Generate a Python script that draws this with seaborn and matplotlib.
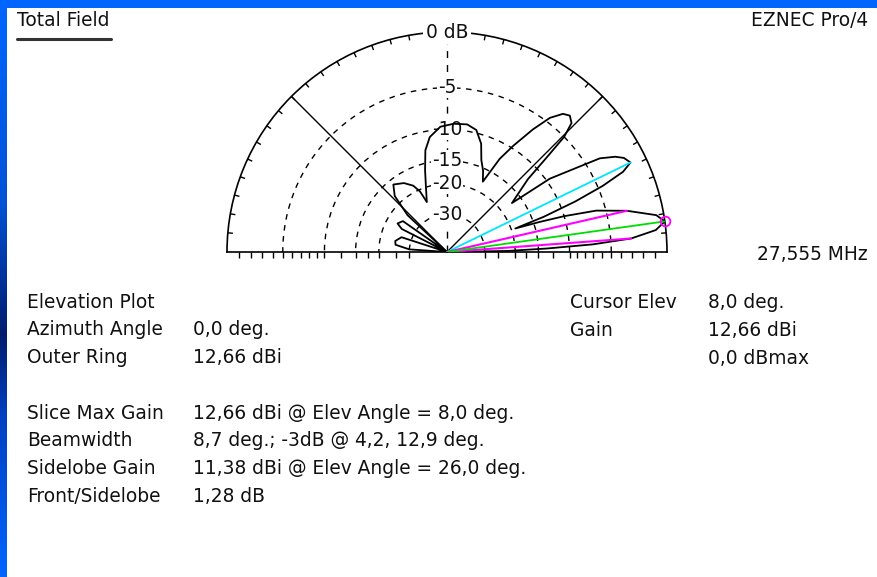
import numpy as np
import pandas as pd
import matplotlib
matplotlib.use("Agg")
import matplotlib.pyplot as plt
import seaborn as sns
from matplotlib.colors import LinearSegmentedColormap
from matplotlib.lines import Line2D
from matplotlib.patches import Rectangle
from matplotlib.ticker import FixedLocator, NullFormatter


# ──────────────────────────────────────────────
# Data
# (gain in dB relative to the 12,66 dBi outer ring, -99 = deep null)
# ──────────────────────────────────────────────

ELEV_DEG = [0, 1, 2, 3, 4.2, 6, 8, 10, 12.9, 15.5, 17, 18, 19,
            20, 21.5, 23, 24.5, 26, 28, 29.5, 31.5, 33, 35.5, 37,
            42, 43.5, 44.5, 46, 48, 50, 52.5, 55, 58, 60.5, 63,
            66, 69.5, 72.5, 76.5, 81, 87, 93, 98.5, 102, 105, 108, 112,
            114, 117, 122, 128.5, 133, 137, 141,
            145, 150, 153, 157,
            162, 168, 172, 176, 180]
GAIN_DB = [-99, -22, -13.5, -7, -3, -0.8, 0, -0.6, -3, -6, -10, -14, -19,
           -13, -8, -4.5, -2.2, -1.28, -1.6, -2.2, -3.5, -6, -9.5, -17,
           -12, -8, -5, -3.5, -3.1, -3.4, -4.5, -6.6, -9.6, -12.3, -17.5,
           -15.5, -13.8, -11.3, -9.6, -9.1, -9.2, -9.6, -10.9, -12.8, -16.3, -20, -24,
           -20.5, -18.5, -17, -16, -18, -24, -99,
           -24, -23, -25, -99,
           -26, -24.3, -24.6, -30, -99]

RING_DB = [-30, -20, -15, -10, -5]
RING_LABELS = ["-30", "-20", "-15", "-10", "-5"]
RIM_TICKS_DEG = list(range(5, 180, 5))
GROUND_TICKS_DB = [-1, -2, -3, -4, -6, -7, -8, -9, -12.5, -17.5, -25]
RMIN_DB = -100
NULL_DB = -99

MAX_ELEV = 8.0
SIDELOBE_ELEV = 26.0
SIDELOBE_DB = -1.28
BEAM_EDGES = [4.2, 12.9]
BEAM_DB = -3.0

LEFT_ROWS = [("Elevation Plot", ""),
             ("Azimuth Angle", "0,0 deg."),
             ("Outer Ring", "12,66 dBi"),
             ("", ""),
             ("Slice Max Gain", "12,66 dBi @ Elev Angle = 8,0 deg."),
             ("Beamwidth", "8,7 deg.; -3dB @ 4,2, 12,9 deg."),
             ("Sidelobe Gain", "11,38 dBi @ Elev Angle = 26,0 deg."),
             ("Front/Sidelobe", "1,28 dB")]
RIGHT_ROWS = [("Cursor Elev", "8,0 deg."),
              ("Gain", "12,66 dBi"),
              ("", "0,0 dBmax")]

W, H = 878, 577
FONT_SIZE = 13.4


def arrl_fwd(db):
    # ARRL log scale: 2 dB per 0.89 radius step
    return 0.89 ** (-np.asarray(db, dtype=float) / 2)


def arrl_inv(r):
    r = np.asarray(r, dtype=float)
    with np.errstate(divide="ignore", invalid="ignore"):
        return -2 * np.log(r) / np.log(0.89)


def px_text(x, y, s, **kw):
    fig.text(x / W, 1 - y / H, s, va="center", fontsize=FONT_SIZE, color="#111111", **kw)


sns.set_theme(style="white")
plt.rcParams["font.family"] = ["DejaVu Sans"]

fig = plt.figure(figsize=(W / 100, H / 100), dpi=100)
fig.patch.set_facecolor("white")

# blue slide frame
grad = LinearSegmentedColormap.from_list(
    "frame", [(0, "#0066ff"), (0.35, "#0052d6"), (0.58, "#001c6e"),
              (0.72, "#0040c0"), (1, "#0066ff")])
ax_bar = fig.add_axes([0, 0, 7 / W, 1])
ax_bar.imshow(np.linspace(0, 1, 256)[:, None], aspect="auto", cmap=grad)
ax_bar.axis("off")
fig.add_artist(Rectangle((0, 1 - 8 / H), 1, 8 / H, transform=fig.transFigure,
                         color="#0066ff", lw=0))

# ──────────────────────────────────────────────
# Polar elevation plot (square box, the half wedge sits in its middle)
# ──────────────────────────────────────────────
ax = fig.add_axes([227 / W, 215 / H, 440 / W, 440 / H], projection="polar")
ax.set_thetamin(0)
ax.set_thetamax(180)
ax.set_rscale("function", functions=(arrl_fwd, arrl_inv))
ax.set_rlim(RMIN_DB, 0)
ax.patch.set_alpha(0)

ax.set_yticks(RING_DB)
ax.yaxis.set_minor_locator(FixedLocator(GROUND_TICKS_DB))
ax.yaxis.set_minor_formatter(NullFormatter())
ax.set_yticklabels([])
ax.yaxis.grid(True, color="black", linestyle=(0, (4, 4)), linewidth=1.0)
ax.tick_params(axis="y", which="both", direction="out", length=4, width=1,
               color="black", left=True, right=True)

ax.set_xticks(np.deg2rad([45, 90, 135]))
ax.set_xticklabels([])
ax.xaxis.grid(True, color="black", linestyle="-", linewidth=1.0)
ax.xaxis.get_gridlines()[1].set_linestyle((0, (5, 5)))

# small inward ticks on the outer ring
ax.vlines(np.deg2rad(RIM_TICKS_DEG), -0.4, 0, color="black", linewidth=1.0, zorder=2)

for name in ["polar", "start", "end"]:
    ax.spines[name].set_color("black")
    ax.spines[name].set_linewidth(1.2)

pattern = pd.DataFrame({"theta": np.deg2rad(ELEV_DEG), "gain": GAIN_DB})
sns.lineplot(data=pattern, x="theta", y="gain", sort=False, estimator=None,
             color="black", linewidth=1.3, ax=ax, zorder=4)

# cursor / marker lines
sns.lineplot(x=np.deg2rad([SIDELOBE_ELEV] * 2), y=[NULL_DB, SIDELOBE_DB], sort=False,
             estimator=None, color="#00e5ff", linewidth=1.3, ax=ax, zorder=5)
for edge in BEAM_EDGES:
    sns.lineplot(x=np.deg2rad([edge] * 2), y=[NULL_DB, BEAM_DB], sort=False,
                 estimator=None, color="#ff00ff", linewidth=1.5, ax=ax, zorder=5)
sns.lineplot(x=np.deg2rad([MAX_ELEV] * 2), y=[NULL_DB, 0], sort=False,
             estimator=None, color="#00dd00", linewidth=1.3, ax=ax, zorder=5)
ax.plot(np.deg2rad(MAX_ELEV), 0, marker="o", ms=7, mfc="none", mec="#ff00ff", mew=1.3,
        clip_on=False, zorder=6)

ax.set_xlabel("")
ax.set_ylabel("")

# ring labels along the 90 deg axis (below the pattern trace)
for db, lab in zip(RING_DB, RING_LABELS):
    ax.text(np.pi / 2, db, lab, ha="center", va="center", fontsize=FONT_SIZE, color="#111111",
            bbox=dict(boxstyle="square,pad=0.05", fc="white", ec="none"), zorder=3)
ax.text(np.pi / 2, 0, "0 dB", ha="center", va="center", fontsize=FONT_SIZE, color="#111111",
        bbox=dict(boxstyle="square,pad=0.15", fc="white", ec="none"), clip_on=False, zorder=3)

# ──────────────────────────────────────────────
# Header and info text
# ──────────────────────────────────────────────
px_text(17, 21, "Total Field")
fig.add_artist(Line2D([17 / W, 111 / W], [1 - 39 / H] * 2, color="#333333", lw=2.2))
px_text(868, 21, "EZNEC Pro/4", ha="right")
px_text(868, 255, "27,555 MHz", ha="right")

for i, (label, value) in enumerate(LEFT_ROWS):
    y = 302 + i * 27.8
    px_text(27, y, label)
    px_text(193, y, value)

for i, (label, value) in enumerate(RIGHT_ROWS):
    y = 302 + i * 28
    px_text(570, y, label)
    px_text(708, y, value)

fig.savefig("out.png", dpi=100, facecolor="white")
